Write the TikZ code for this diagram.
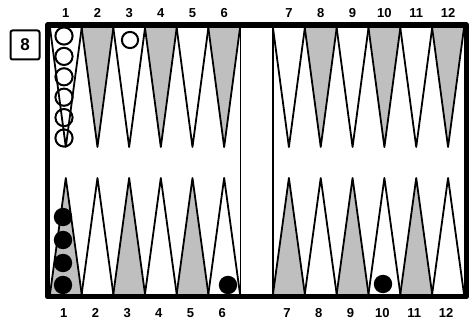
\documentclass[tikz,border=0pt]{standalone}
\usepackage{fontspec}
\setmainfont{Liberation Sans}
\begin{document}
\begin{tikzpicture}[x=1pt,y=-1pt,line join=round]
  \tikzstyle{num}=[font=\fontsize{13}{14}\selectfont\bfseries,inner sep=0pt]
  \tikzstyle{spike}=[draw,line width=1.8pt]
  \tikzstyle{dots}=[fill=black!25]
  \tikzstyle{whitestone}=[draw,fill=white,line width=2pt]
  \tikzstyle{blackstone}=[fill=black]
  \useasboundingbox (0,0) rectangle (476,320);
  % shaded points
  \foreach \i in {2,4,6}{
    \pgfmathsetmacro\xa{50+(\i-1)*31.67}
    \pgfmathsetmacro\xb{273+(\i-1)*31.83}
    \fill[dots] (\xa,28) -- ({\xa+15.8},147) -- ({\xa+31.67},28) -- cycle;
    \fill[dots] (\xb,28) -- ({\xb+15.9},147) -- ({\xb+31.83},28) -- cycle;
  }
  \foreach \i in {1,3,5}{
    \pgfmathsetmacro\xa{50+(\i-1)*31.67}
    \pgfmathsetmacro\xb{273+(\i-1)*31.83}
    \fill[dots] (\xa,294) -- ({\xa+15.8},178) -- ({\xa+31.67},294) -- cycle;
    \fill[dots] (\xb,294) -- ({\xb+15.9},178) -- ({\xb+31.83},294) -- cycle;
  }
  % checkers
  \foreach \k in {0,...,5}
    \draw[whitestone] (64,{36+20.4*\k}) circle (8.6);
  \draw[whitestone] (130,40) circle (8.1);
  \foreach \y in {217,240,263,285}
    \fill[blackstone] (63,\y) circle (9.2);
  \fill[blackstone] (228,285) circle (9.2);
  \fill[blackstone] (383,284) circle (9.2);
  % outlines
  \foreach \i in {1,...,6}{
    \pgfmathsetmacro\xa{50+(\i-1)*31.67}
    \pgfmathsetmacro\xb{273+(\i-1)*31.83}
    \draw[spike] (\xa,28) -- ({\xa+15.8},147) -- ({\xa+31.67},28);
    \draw[spike] (\xb,28) -- ({\xb+15.9},147) -- ({\xb+31.83},28);
    \draw[spike] (\xa,294) -- ({\xa+15.8},178) -- ({\xa+31.67},294);
    \draw[spike] (\xb,294) -- ({\xb+15.9},178) -- ({\xb+31.83},294);
  }
  % bar and frame
  \draw[line width=1.3pt] (240.5,28) -- (240.5,294);
  \draw[line width=1.3pt] (273,28) -- (273,294);
  \draw[line width=5.5pt] (47.5,25) rectangle (466.5,296.5);
  % labels
  \foreach \i in {1,...,6}{
    \pgfmathsetmacro\xa{65.8+(\i-1)*31.67}
    \pgfmathsetmacro\xb{288.9+(\i-1)*31.83}
    \pgfmathtruncatemacro\j{\i+6}
    \node[num] (t\i) at (\xa,13) {\i};
    \node[num] (t\j) at (\xb,13) {\j};
    \node[num] (b\i) at ({\xa-2},313) {\i};
    \node[num] (b\j) at ({\xb-2},313) {\j};
  }
  \node[draw,line width=2pt,rounded corners=2pt,minimum size=29pt,inner sep=0pt,
    font=\fontsize{17}{18}\selectfont\bfseries] (pos) at (25,45) {8};
\end{tikzpicture}
\end{document}
